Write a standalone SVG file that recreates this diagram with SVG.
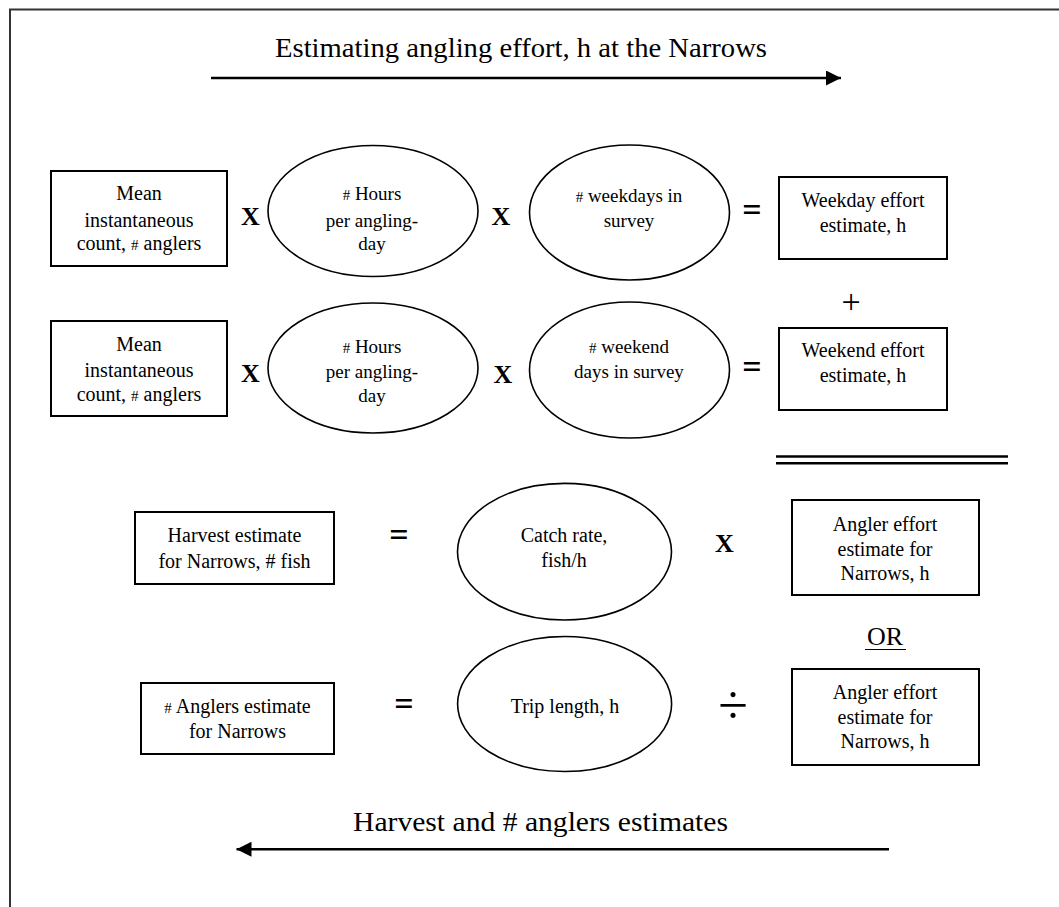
<svg xmlns="http://www.w3.org/2000/svg" width="1059" height="907" viewBox="0 0 1059 907">
<style>
  .box { fill: #fff; stroke: #000; stroke-width: 2; }
  .ell { fill: #fff; stroke: #000; stroke-width: 1.6; }
  .t { font-family: "Liberation Serif", "Times New Roman", serif; font-size: 20px; fill: #000; text-anchor: middle; }
  .te { font-family: "Liberation Serif", "Times New Roman", serif; font-size: 19px; fill: #000; text-anchor: middle; }
  .sm { font-size: 15px; }
  .op { font-family: "Liberation Serif", "Times New Roman", serif; fill: #000; text-anchor: middle; }
  .x { font-size: 26px; font-weight: bold; }
  .eq { font-size: 34px; font-weight: bold; }
  .title { font-family: "Liberation Serif", "Times New Roman", serif; font-size: 27px; fill: #000; }
  .arrow { stroke: #000; stroke-width: 2.6; fill: none; }
  .dbl { stroke: #000; stroke-width: 2.6; }
</style>
<defs>
  <marker id="ah" markerUnits="userSpaceOnUse" markerWidth="16" markerHeight="16" refX="15" refY="7.5" orient="auto">
    <path d="M0,0 L15,7.5 L0,15 z" fill="#000"/>
  </marker>
</defs>
<rect x="0" y="0" width="1059" height="907" fill="#fff"/>
<rect x="10" y="9.5" width="1100" height="1000" fill="none" stroke="#333" stroke-width="2"/>

<g id="title-top">
  <text class="title" x="275" y="57" textLength="492" lengthAdjust="spacingAndGlyphs">Estimating angling effort, h at the Narrows</text>
</g>
<g id="title-bottom">
  <text class="title" x="353" y="830.5" textLength="375" lengthAdjust="spacingAndGlyphs">Harvest and # anglers estimates</text>
</g>

<g id="connectors">
  <line class="arrow" x1="211" y1="78" x2="841" y2="78" marker-end="url(#ah)"/>
  <line class="arrow" x1="889" y1="849.3" x2="236.5" y2="849.3" marker-end="url(#ah)"/>
  <line class="dbl" x1="776" y1="456.5" x2="1008" y2="456.5"/>
  <line class="dbl" x1="776" y1="463.3" x2="1008" y2="463.3"/>
</g>

<g id="weekday-count">
  <rect class="box" x="51" y="171" width="176" height="95"/>
  <text class="t" x="139" y="200">Mean</text>
  <text class="t" x="139" y="226.5">instantaneous</text>
  <text class="t" x="139" y="250">count, <tspan class="sm">#</tspan> anglers</text>
</g>
<text class="op x" x="250.5" y="225">X</text>
<g id="weekday-hours">
  <ellipse class="ell" cx="373" cy="211" rx="105" ry="65.5"/>
  <text class="te" x="372" y="200"><tspan class="sm">#</tspan> Hours</text>
  <text class="te" x="372" y="226.5">per angling-</text>
  <text class="te" x="372" y="250">day</text>
</g>
<text class="op x" x="501" y="225">X</text>
<g id="weekdays-in-survey">
  <ellipse class="ell" cx="629.5" cy="212.5" rx="100" ry="67.5"/>
  <text class="te" x="629" y="201.5"><tspan class="sm">#</tspan> weekdays in</text>
  <text class="te" x="629" y="226.5">survey</text>
</g>
<text class="op eq" x="752" y="220.5">=</text>
<g id="weekday-effort">
  <rect class="box" x="779" y="177" width="168" height="82"/>
  <text class="t" x="863" y="206.5">Weekday effort</text>
  <text class="t" x="863" y="231.5">estimate, h</text>
</g>

<text class="op" x="851" y="312.5" font-size="34">+</text>

<g id="weekend-count">
  <rect class="box" x="51" y="321" width="176" height="95"/>
  <text class="t" x="139" y="351">Mean</text>
  <text class="t" x="139" y="377">instantaneous</text>
  <text class="t" x="139" y="401">count, <tspan class="sm">#</tspan> anglers</text>
</g>
<text class="op x" x="250.5" y="381.5">X</text>
<g id="weekend-hours">
  <ellipse class="ell" cx="373" cy="368" rx="105" ry="65"/>
  <text class="te" x="372" y="352.5"><tspan class="sm">#</tspan> Hours</text>
  <text class="te" x="372" y="378">per angling-</text>
  <text class="te" x="372" y="401.5">day</text>
</g>
<text class="op x" x="503" y="383">X</text>
<g id="weekend-days-in-survey">
  <ellipse class="ell" cx="629.5" cy="370" rx="100" ry="68"/>
  <text class="te" x="629" y="352.5"><tspan class="sm">#</tspan> weekend</text>
  <text class="te" x="629" y="378">days in survey</text>
</g>
<text class="op eq" x="752" y="377.5">=</text>
<g id="weekend-effort">
  <rect class="box" x="779" y="328" width="168" height="82"/>
  <text class="t" x="863" y="356.5">Weekend effort</text>
  <text class="t" x="863" y="381.5">estimate, h</text>
</g>

<g id="harvest-estimate">
  <rect class="box" x="135" y="512" width="199" height="72" stroke-width="2.4"/>
  <text class="t" x="234.5" y="541.5" font-size="20.5">Harvest estimate</text>
  <text class="t" x="234.5" y="568" font-size="20.5">for Narrows, # fish</text>
</g>
<text class="op eq" x="399" y="545.5">=</text>
<g id="catch-rate">
  <ellipse class="ell" cx="564.5" cy="551.7" rx="107" ry="68.3"/>
  <text class="t" x="564" y="541.5">Catch rate,</text>
  <text class="t" x="564" y="566.5">fish/h</text>
</g>
<text class="op x" x="724.5" y="552">X</text>
<g id="angler-effort-1">
  <rect class="box" x="792" y="500" width="187" height="95" stroke-width="2.4"/>
  <text class="t" x="885" y="530.5">Angler effort</text>
  <text class="t" x="885" y="556">estimate for</text>
  <text class="t" x="885" y="580">Narrows, h</text>
</g>

<text class="op" x="885" y="645" font-size="26">OR</text>
<line x1="865" y1="649.5" x2="906" y2="649.5" stroke="#000" stroke-width="1.2"/>

<g id="anglers-estimate">
  <rect class="box" x="141" y="683" width="193" height="71" stroke-width="2.4"/>
  <text class="t" x="237.5" y="713.3" font-size="20.5"><tspan class="sm">#</tspan> Anglers estimate</text>
  <text class="t" x="237.5" y="738.3" font-size="20.5">for Narrows</text>
</g>
<text class="op eq" x="404" y="714.5">=</text>
<g id="trip-length">
  <ellipse class="ell" cx="564.6" cy="704" rx="107" ry="67.5"/>
  <text class="t" x="565" y="713.3">Trip length, h</text>
</g>
<text class="op" x="733" y="723" font-size="54">÷</text>
<g id="angler-effort-2">
  <rect class="box" x="792" y="669" width="187" height="96" stroke-width="2.4"/>
  <text class="t" x="885" y="699">Angler effort</text>
  <text class="t" x="885" y="724">estimate for</text>
  <text class="t" x="885" y="748.3">Narrows, h</text>
</g>
</svg>
